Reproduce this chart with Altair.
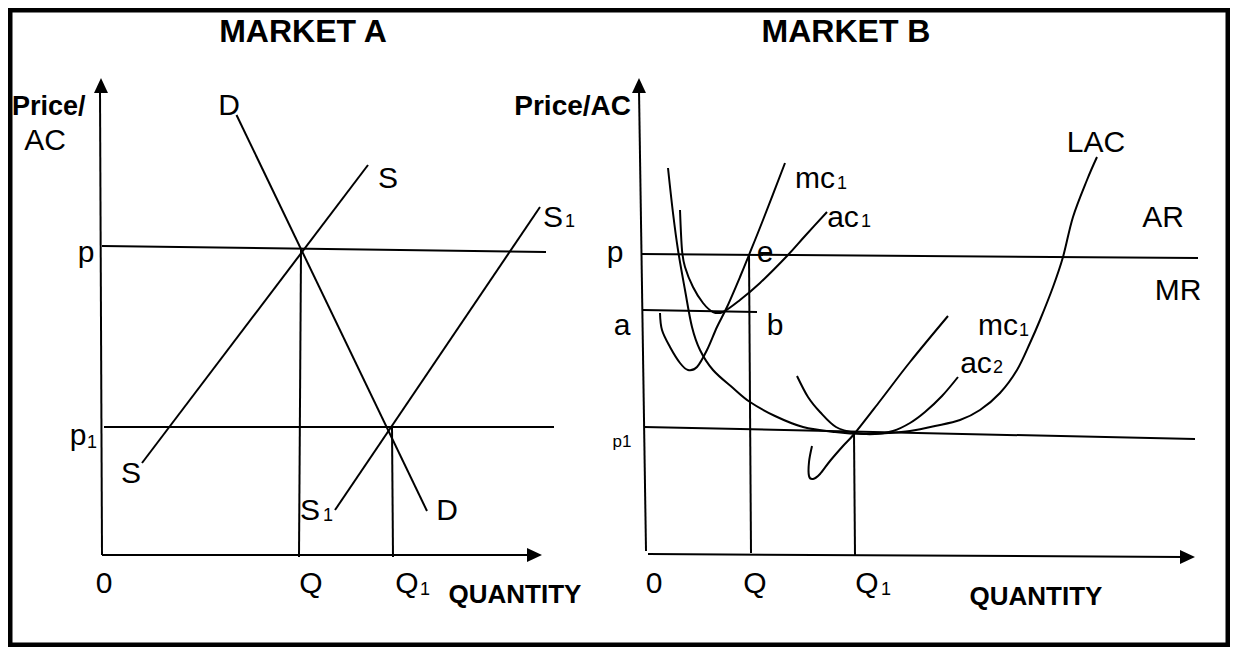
import altair as alt
import pandas as pd

# ---------------- data: diagram geometry (figure units: px from left, px from top) ----------------
# Market A straight lines
A_price_axis = [(102, 555), (100, 90)]
A_qty_axis = [(102, 555), (530, 555)]
A_p_line = [(102, 246), (546, 252)]
A_p1_line = [(104, 427), (554, 427)]
A_demand = [(236.5, 115), (427, 511)]
A_supply = [(142, 463), (368, 165)]
A_supply1 = [(335, 510), (540, 207)]
A_Q_drop = [(301, 250), (299, 557)]
A_Q1_drop = [(392, 427), (393, 557)]

# Market B straight lines
B_price_axis = [(646, 551), (639, 90)]
B_qty_axis = [(648, 554), (1183, 557)]
B_p_line = [(641, 254), (1198, 258)]
B_p1_line = [(644, 427), (1195, 439)]
B_ab_line = [(643, 310), (757, 312)]
B_Q_drop = [(749, 254), (751, 553)]
B_Q1_drop = [(854, 433), (855, 555)]

# Market B curves
B_LAC = [(668, 168), (673, 213), (678, 250), (685, 290), (692, 327), (700, 350), (713, 370),
         (733, 388), (750, 402), (775, 416), (803, 427), (835, 432), (864, 434), (890, 433),
         (910, 431), (935, 426), (960, 420), (980, 410), (1000, 393), (1017, 370), (1030, 343),
         (1040, 320), (1053, 287), (1063, 257), (1073, 217), (1087, 180), (1097, 157)]
B_mc1 = [(660, 313), (662, 330), (670, 347), (680, 363), (688, 370), (697, 367), (707, 350),
         (717, 327), (727, 307), (740, 277), (749, 255), (763, 220), (785, 163)]
B_ac1 = [(680, 210), (682, 250), (685, 267), (693, 287), (703, 303), (713, 312), (723, 312),
         (740, 300), (760, 283), (787, 256), (805, 236), (827, 212)]
B_ac2 = [(797, 376), (808, 397), (820, 412), (836, 427), (856, 433), (875, 434), (893, 431),
         (910, 423), (925, 412), (942, 396), (958, 377)]
B_mc2 = [(812, 446), (809, 462), (809, 476), (813, 479), (820, 474), (830, 461), (843, 446),
         (855, 433), (880, 401), (910, 362), (948, 316)]

# arrowhead centres
arrow_up = [(101, 85.5), (639, 85.5)]
arrow_right = [(534.5, 555), (1187.5, 557)]

# labels: (text, x, baseline y)
titles = [("MARKET A", 303, 42), ("MARKET B", 846, 42)]
qty_titles = [("QUANTITY", 515, 603), ("QUANTITY", 1036, 605)]
price_title_left = [("Price/", 12, 115)]
price_title_right = [("Price/AC", 631, 115)]
labels = [("AC", 45, 150), ("D", 229, 115), ("S", 388, 188), ("S", 553, 227), ("p", 86, 262),
          ("p", 78, 445), ("S", 131, 483), ("S", 310, 520), ("D", 447, 520), ("0", 104, 593),
          ("Q", 311, 593), ("Q", 407, 593),
          ("LAC", 1096, 152), ("mc", 815, 188), ("ac", 843, 227), ("AR", 1163, 227),
          ("p", 615, 262), ("e", 765, 262), ("MR", 1178, 300), ("a", 622, 335), ("b", 775, 335),
          ("mc", 998, 335), ("ac", 976, 373), ("0", 654, 593), ("Q", 755, 593), ("Q", 867, 593)]
subscripts = [("1", 570, 227), ("1", 92, 448), ("1", 328, 521), ("1", 425, 595),
              ("1", 842, 189), ("1", 866, 227), ("1", 1024, 336), ("2", 998, 373), ("1", 886, 595)]
small_labels = [("p1", 622, 447)]

# ---------------- build tables ----------------
def lines_df(named):
    rows = []
    for name, pts in named.items():
        for i, (x, y) in enumerate(pts):
            rows.append({"id": name, "o": i, "x": x, "y": y})
    return pd.DataFrame(rows)

def pts_df(pts):
    return pd.DataFrame([{"x": x, "y": y} for x, y in pts])

def text_df(items):
    return pd.DataFrame([{"t": t, "x": x, "y": y} for t, x, y in items])

straight = lines_df({
    "A_price_axis": A_price_axis, "A_qty_axis": A_qty_axis, "A_p": A_p_line, "A_p1": A_p1_line,
    "A_D": A_demand, "A_S": A_supply, "A_S1": A_supply1, "A_Q": A_Q_drop, "A_Q1": A_Q1_drop,
    "B_price_axis": B_price_axis, "B_qty_axis": B_qty_axis, "B_p": B_p_line, "B_p1": B_p1_line,
    "B_ab": B_ab_line, "B_Q": B_Q_drop, "B_Q1": B_Q1_drop,
})
curves = lines_df({"LAC": B_LAC, "mc1": B_mc1, "ac1": B_ac1, "ac2": B_ac2, "mc2": B_mc2})

XS = alt.Scale(domain=[8, 1230], nice=False, zero=False)
YS = alt.Scale(domain=[8, 647], nice=False, zero=False, reverse=True)

def enc(**kw):
    return dict(x=alt.X("x:Q", scale=XS, axis=None), y=alt.Y("y:Q", scale=YS, axis=None), **kw)

FONT = "Liberation Sans"

straight_layer = alt.Chart(straight).mark_line(color="black", strokeWidth=2).encode(
    **enc(detail="id:N", order="o:Q"))
curve_layer = alt.Chart(curves).mark_line(color="black", strokeWidth=2, interpolate="cardinal").encode(
    **enc(detail="id:N", order="o:Q"))

up_layer = alt.Chart(pts_df(arrow_up)).mark_point(
    shape="M0,-1L0.93,1L-0.93,1Z", size=225, filled=True, color="black", opacity=1, strokeWidth=0
).encode(**enc())
right_layer = alt.Chart(pts_df(arrow_right)).mark_point(
    shape="M1,0L-1,0.93L-1,-0.93Z", size=225, filled=True, color="black", opacity=1, strokeWidth=0
).encode(**enc())

def text_layer(items, size, weight="normal", align="center"):
    return alt.Chart(text_df(items)).mark_text(
        font=FONT, fontSize=size, fontWeight=weight, align=align, baseline="alphabetic", color="black"
    ).encode(**enc(text="t:N"))

chart = alt.layer(
    straight_layer, curve_layer, up_layer, right_layer,
    text_layer(titles, 32, "bold"),
    text_layer(qty_titles, 26, "bold"),
    text_layer(price_title_left, 27, "bold", "left"),
    text_layer(price_title_right, 28, "bold", "right"),
    text_layer(labels, 30),
    text_layer(subscripts, 18),
    text_layer(small_labels, 17),
).properties(
    width=1222, height=639, padding=0,
    autosize=alt.AutoSizeParams(type="fit", contains="padding"),
    background="white",
).configure_view(stroke="black", strokeWidth=9)

chart.save("out.html", embed_options={"renderer": "svg", "actions": False})
